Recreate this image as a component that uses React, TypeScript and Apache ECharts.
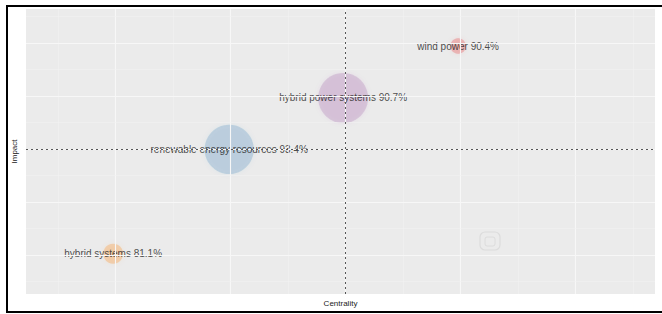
import React, { useEffect, useRef } from "react";
import * as echarts from "echarts";

const topics = ["hybrid power systems", "renewable energy resources", "wind power", "hybrid systems"];
const shares = [90.7, 93.4, 90.4, 81.1];
const centrality = [0.2978, 0.1987, 0.3978, 0.0978];
const impact = [59.6, 49.9, 69.4, 30.2];
const frequency = [62, 60, 6, 10];
const clusterColors = ["rgba(152,78,163,0.28)", "rgba(55,126,184,0.28)", "rgba(228,26,28,0.3)", "rgba(255,127,0,0.3)"];

const xMajor = [0.1, 0.2, 0.3, 0.4, 0.5];
const xMinor = [0.05, 0.15, 0.25, 0.35, 0.45, 0.55];
const yMajor = [30, 40, 50, 60, 70];
const yMinor = [25, 35, 45, 55, 65, 75];
const xMean = 0.297;
const yMean = 50;

export default function App() {
  const ref = useRef<HTMLDivElement>(null);
  useEffect(() => {
    if (!ref.current) return;
    const chart = echarts.init(ref.current, null, { renderer: "svg" });
    const bubbles = topics.map((t, i) => ({
      name: t,
      value: [centrality[i], impact[i]],
      symbolSize: 6.35 * Math.sqrt(frequency[i]),
      itemStyle: {
        color: clusterColors[i],
        shadowBlur: 5,
        shadowColor: clusterColors[i],
      },
      label: { formatter: `${t} ${shares[i]}%` },
    }));
    const gridLines = [
      ...xMajor.map((v) => ({ xAxis: v, lineStyle: { color: "#f7f7f7", width: 1.1, type: "solid" } })),
      ...xMinor.map((v) => ({ xAxis: v, lineStyle: { color: "#f2f2f2", width: 0.6, type: "solid" } })),
      ...yMajor.map((v) => ({ yAxis: v, lineStyle: { color: "#f7f7f7", width: 1.1, type: "solid" } })),
      ...yMinor.map((v) => ({ yAxis: v, lineStyle: { color: "#f2f2f2", width: 0.6, type: "solid" } })),
    ];
    const frame = { stroke: "#000", lineWidth: 2 };
    chart.setOption({
      animation: false,
      grid: {
        left: 26,
        top: 9,
        right: 7,
        bottom: 20,
        show: true,
        backgroundColor: "#ebebeb",
        borderWidth: 0,
        borderColor: "transparent",
      },
      xAxis: {
        type: "value",
        min: 0.022,
        max: 0.569,
        name: "Centrality",
        nameLocation: "middle",
        nameGap: 5,
        nameTextStyle: { fontSize: 8, color: "#222", fontFamily: "Liberation Sans", verticalAlign: "top" },
        axisLine: { show: false },
        axisTick: { show: false },
        axisLabel: { show: false },
        splitLine: { show: false },
      },
      yAxis: {
        type: "value",
        min: 22.6,
        max: 76.4,
        name: "Impact",
        nameLocation: "middle",
        nameGap: 8,
        nameTextStyle: { fontSize: 8, color: "#222", fontFamily: "Liberation Sans" },
        axisLine: { show: false },
        axisTick: { show: false },
        axisLabel: { show: false },
        splitLine: { show: false },
      },
      graphic: [
        { type: "line", shape: { x1: 6, y1: 6, x2: 662, y2: 6 }, style: frame, silent: true, z: 100 },
        { type: "line", shape: { x1: 7, y1: 5, x2: 7, y2: 313 }, style: frame, silent: true, z: 100 },
        { type: "line", shape: { x1: 6, y1: 312, x2: 662, y2: 312 }, style: frame, silent: true, z: 100 },
        {
          type: "group",
          x: 490,
          y: 241,
          silent: true,
          children: [
            {
              type: "rect",
              shape: { x: -10, y: -9, width: 20, height: 18, r: 5 },
              style: { fill: "none", stroke: "#dcdcdc", lineWidth: 1.2 },
            },
            {
              type: "rect",
              shape: { x: -5, y: -4, width: 10, height: 9, r: 2 },
              style: { fill: "none", stroke: "#dcdcdc", lineWidth: 1 },
            },
          ],
        },
      ],
      series: [
        {
          type: "scatter",
          data: [],
          z: 1,
          silent: true,
          markLine: {
            silent: true,
            symbol: "none",
            label: { show: false },
            animation: false,
            data: gridLines,
          },
        },
        {
          type: "scatter",
          data: [],
          z: 2,
          silent: true,
          markLine: {
            silent: true,
            symbol: "none",
            label: { show: false },
            animation: false,
            lineStyle: { color: "#555", type: [2, 3], width: 1 },
            data: [{ xAxis: xMean }, { yAxis: yMean }],
          },
        },
        {
          type: "scatter",
          z: 3,
          data: bubbles,
          label: {
            show: true,
            position: "inside",
            fontSize: 10,
            color: "#222",
            textBorderWidth: 0,
            fontFamily: "Liberation Sans",
          },
        },
      ],
    });
    return () => chart.dispose();
  }, []);
  return (
    <div
      ref={ref}
      style={{ position: "fixed", left: 0, top: 0, width: 662, height: 314, background: "#fff" }}
    />
  );
}
